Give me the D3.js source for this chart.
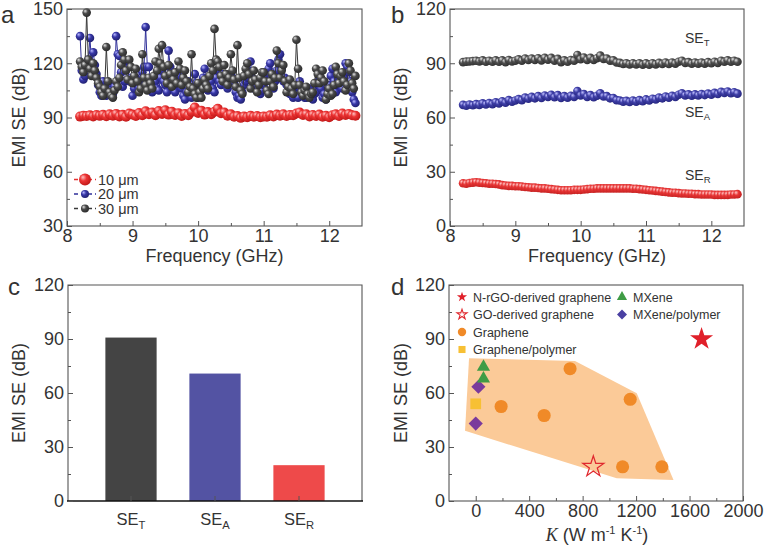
<!DOCTYPE html>
<html><head><meta charset="utf-8">
<script src="https://cdn.jsdelivr.net/npm/d3@7"></script>
<style>
body{margin:0;background:#fff}
svg{display:block}
text{font-family:"Liberation Sans",Arial,sans-serif;fill:#333}
</style></head><body>
<svg id="chart" width="764" height="551"></svg>
<script>
// ---------- DATA ----------
const freq = [8.2,8.25,8.3,8.35,8.4,8.45,8.5,8.55,8.6,8.65,8.7,8.75,8.8,8.85,8.9,8.95,
  9.0,9.05,9.1,9.15,9.2,9.25,9.3,9.35,9.4,9.45,9.5,9.55,9.6,9.65,9.7,9.75,9.8,9.85,9.9,9.95,
  10.0,10.05,10.1,10.15,10.2,10.25,10.3,10.35,10.4,10.45,10.5,10.55,10.6,10.65,10.7,10.75,10.8,10.85,10.9,10.95,
  11.0,11.05,11.1,11.15,11.2,11.25,11.3,11.35,11.4,11.45,11.5,11.55,11.6,11.65,11.7,11.75,11.8,11.85,11.9,11.95,
  12.0,12.05,12.1,12.15,12.2,12.25,12.3,12.35,12.4];

const freqFine = [
  8.2,8.225,8.25,8.275,8.3,8.325,8.35,8.375,
  8.4,8.425,8.45,8.475,8.5,8.525,8.55,8.575,
  8.6,8.625,8.65,8.675,8.7,8.725,8.75,8.775,
  8.8,8.825,8.85,8.875,8.9,8.925,8.95,8.975,
  9.0,9.025,9.05,9.075,9.1,9.125,9.15,9.175,
  9.2,9.225,9.25,9.275,9.3,9.325,9.35,9.375,
  9.4,9.425,9.45,9.475,9.5,9.525,9.55,9.575,
  9.6,9.625,9.65,9.675,9.7,9.725,9.75,9.775,
  9.8,9.825,9.85,9.875,9.9,9.925,9.95,9.975,
  10.0,10.025,10.05,10.075,10.1,10.125,10.15,10.175,
  10.2,10.225,10.25,10.275,10.3,10.325,10.35,10.375,
  10.4,10.425,10.45,10.475,10.5,10.525,10.55,10.575,
  10.6,10.625,10.65,10.675,10.7,10.725,10.75,10.775,
  10.8,10.825,10.85,10.875,10.9,10.925,10.95,10.975,
  11.0,11.025,11.05,11.075,11.1,11.125,11.15,11.175,
  11.2,11.225,11.25,11.275,11.3,11.325,11.35,11.375,
  11.4,11.425,11.45,11.475,11.5,11.525,11.55,11.575,
  11.6,11.625,11.65,11.675,11.7,11.725,11.75,11.775,
  11.8,11.825,11.85,11.875,11.9,11.925,11.95,11.975,
  12.0,12.025,12.05,12.075,12.1,12.125,12.15,12.175,
  12.2,12.225,12.25,12.275,12.3,12.325,12.35,12.375,
  12.4];

const se10um = [90.5,91,90.8,91.2,90.6,91.4,90.9,91.5,90.7,91.8,91,92,90.6,91.5,90.4,92.2,
  91.6,90.8,92.5,91.2,93.4,91.8,92.8,91.3,93.6,92,94,91.6,93.2,91.4,92.4,90.8,92,91.2,93,95.5,
  92.5,93.8,91.6,93,91.8,93.2,94.8,92.4,92.8,91,91.8,90.4,90.8,89.8,90.6,90.2,91,90.4,90.8,90.2,
  90.6,90.4,91.2,90.6,91.6,91,91.8,90.8,91.4,91.2,92.2,92.8,91.4,91.8,90.6,91.4,90.8,91.6,90.4,91,
  90.2,91.2,91.8,90.8,92.2,91.4,92,91.2,91];

const se20um = [
  135,116,111,113,118,122,134,120,
  126,119,114,108,104,102,110,106,
  102,104,108,105,103,107,135,125,
  124,115,107,110,118,121,110,112,
  102,106,112,108,106,110,115,118,
  140,118,118,110,104,107,110,106,
  105,112,116,110,108,104,127,118,
  111,106,104,109,113,108,106,102,
  100,104,110,106,101,108,114,109,
  101,103,107,112,117,110,105,108,
  110,106,104,112,116,110,108,114,
  112,108,106,110,114,112,109,104,
  101,102,100,104,108,110,112,116,
  121,112,106,108,110,106,103,105,
  108,111,114,117,120,112,106,110,
  116,122,125,117,110,112,108,105,
  103,106,101,104,107,101,110,106,
  103,101,101,104,106,102,100,103,
  104,108,112,106,101,103,100,102,
  108,113,117,110,104,108,112,109,
  106,112,120,118,115,110,104,100,
  98];

const se30um = [
  121,118,115,119,148,122,117,113,
  120,116,112,109,107,104,102,106,
  129,110,104,102,101,105,110,107,
  112,119,126,122,116,111,122,118,
  109,113,117,110,104,106,125,112,
  108,105,112,109,106,113,121,116,
  128,120,130,118,113,109,119,114,
  107,111,115,109,121,117,108,112,
  116,110,104,107,125,106,103,101,
  109,104,101,106,111,108,106,113,
  120,116,139,122,121,118,113,110,
  119,114,108,112,125,116,111,107,
  130,112,105,103,113,117,120,114,
  106,110,116,111,104,108,112,115,
  115,110,105,103,110,114,107,112,
  127,120,112,116,119,110,104,107,
  111,106,103,108,133,117,108,104,
  102,105,107,103,101,103,104,109,
  117,114,109,112,116,110,100,103,
  106,102,103,108,118,114,109,113,
  115,110,105,108,120,116,109,106,
  113];

const seTotal = [90.6,90.9,91,91.2,91.4,91,91.6,90.8,91.4,90.8,91.6,90.8,91.6,90.6,91.8,91,
  91.4,92.2,91.4,92.6,91.8,92.6,91.8,92.8,91.6,93,92,93,91.4,92.4,90.6,91.6,90.8,91.8,91.4,94.6,
  92.2,93.2,91.8,93,91.8,92.8,94.2,92.4,92.6,91.4,91.6,90.4,90.2,89.6,90,89.4,90,89.4,90,89.2,
  90,89.2,90,89.4,90.2,89.6,90.4,89.6,90.4,89.8,90.8,91.4,90.2,90.6,89.8,90.4,89.8,90.4,89.8,90.6,
  90,90.8,90.2,91.4,90.8,91.6,90.8,91.4,90.8];

const seAbs = [67,66.5,67.2,66.8,67.4,67,67.8,67.2,68,67.4,68.4,67.8,69,68.2,69.6,68.8,
  69.4,70.2,69.6,71,70.4,71.4,70.6,71.8,70.8,72.2,71.4,72.6,71.2,72.4,70.8,71.8,71,72,71.4,74.6,
  72.2,73,71.4,72.4,71.2,72,73.4,71.6,71.8,70.6,70.8,69.6,69.4,68.8,69.2,68.6,69.4,68.8,69.6,69,
  70,69.4,70.4,70,71,70.6,71.6,71,72,71.4,72.6,73.4,72.2,72.8,72,72.8,72.2,73,72.4,73.2,
  72.6,73.6,73,74.2,73.6,74.4,73.4,74,73.2];

const seRef = [23.6,23.4,23.8,24,24.2,24,23.8,23.6,23.4,23.4,23.2,23,22.6,22.4,22.2,22.2,
  22,22,21.8,21.6,21.4,21.2,21.2,21,20.8,20.8,20.6,20.4,20.2,20,19.8,19.8,19.8,19.8,20,20,
  20,20.2,20.4,20.6,20.6,20.8,20.8,20.8,20.8,20.8,20.8,20.8,20.8,20.8,20.8,20.8,20.6,20.6,20.4,20.2,
  20,19.8,19.6,19.4,19.2,19,18.8,18.6,18.4,18.4,18.2,18,18,17.8,17.8,17.6,17.6,17.4,17.4,17.4,
  17.4,17.2,17.2,17.2,17.2,17.2,17.4,17.4,17.6];

const barCats = ["T", "A", "R"];
const barVals = [90.8, 70.8, 19.9];

const kNrGO = [1690], seNrGO = [90];
const kGO = [880], seGO = [19];
const kGraphene = [706, 1156, 190, 512, 1099, 1393];
const seGraphene = [73.5, 56.5, 52.5, 47.5, 19, 19];
const kGrPoly = [0], seGrPoly = [54];
const kMXene = [58, 58], seMXene = [74.5, 68];
const kMXPoly = [20, 0], seMXPoly = [63.5, 43];
const hullK = [-80, -50, 743, 1205, 1480, 1055];
const hullSE = [39, 79.3, 77.8, 59.8, 11.7, 12.6];

const ticksA = [30,60,90,120,150], ticks120 = [0,30,60,90,120];
const freqTicks = [8,9,10,11,12];
const kTicks = [0,400,800,1200,1600,2000];

// ---------- SETUP ----------
const svg = d3.select("#chart");
const defs = svg.append("defs");
function grad(id, hi, base, dark){
  const g = defs.append("radialGradient").attr("id", id)
    .attr("cx","0.4").attr("cy","0.4").attr("r","0.62").attr("fx","0.32").attr("fy","0.3");
  g.append("stop").attr("offset","0").attr("stop-color", hi);
  g.append("stop").attr("offset","0.45").attr("stop-color", base);
  g.append("stop").attr("offset","1").attr("stop-color", dark);
}
grad("gRed", "#ffc2c2", "#ec3434", "#c01818");
grad("gBlue", "#b8b8ff", "#3838a8", "#202070");
grad("gGray", "#e4e4e4", "#4a4a4a", "#2a2a2a");
grad("gRedB", "#ffc8c8", "#e83636", "#c42020");
grad("gBlueB", "#c0c0ff", "#4040a8", "#262680");
grad("gGrayB", "#e8e8e8", "#505050", "#303030");

const FRAME = "#555";
const FONT = '"Liberation Sans",Arial,sans-serif';
function frame(x0,x1,y0,y1){
  svg.append("rect").attr("x",x0).attr("y",y0).attr("width",x1-x0).attr("height",y1-y0)
    .attr("fill","none").attr("stroke",FRAME).attr("stroke-width",1.1);
}
function leftAxis(y, x0, major, minor){
  const g = svg.append("g").attr("transform",`translate(${x0},0)`);
  g.call(d3.axisLeft(y).tickValues(major).tickSize(-5).tickPadding(4));
  g.select(".domain").remove();
  g.selectAll(".tick line").attr("stroke",FRAME);
  g.selectAll("text").attr("font-size",18).attr("fill","#222").style("font-family",FONT);
  const m = svg.append("g").attr("transform",`translate(${x0},0)`);
  m.call(d3.axisLeft(y).tickValues(minor).tickSize(-3).tickFormat(""));
  m.select(".domain").remove();
  m.selectAll(".tick line").attr("stroke",FRAME);
}
function bottomAxis(x, y0, major, minor, fmt){
  const g = svg.append("g").attr("transform",`translate(0,${y0})`);
  g.call(d3.axisBottom(x).tickValues(major).tickSize(-5).tickPadding(3).tickFormat(fmt || d3.format("d")));
  g.select(".domain").remove();
  g.selectAll(".tick line").attr("stroke",FRAME);
  g.selectAll("text").attr("font-size",18).attr("fill","#222").style("font-family",FONT);
  if (minor){
    const m = svg.append("g").attr("transform",`translate(0,${y0})`);
    m.call(d3.axisBottom(x).tickValues(minor).tickSize(-3).tickFormat(""));
    m.select(".domain").remove();
    m.selectAll(".tick line").attr("stroke",FRAME);
  }
}
function yTitle(x, y, txt){
  svg.append("text").attr("transform",`translate(${x},${y}) rotate(-90)`)
    .attr("text-anchor","middle").attr("font-size",18).attr("fill","#222").text(txt);
}
function panelLabel(x, y, t){
  svg.append("text").attr("x",x).attr("y",y).attr("font-size",24).attr("fill","#111").text(t);
}
function series(g, xs, ys, x, y, color, gradId, r, lw){
  const pts = xs.map((v,i)=>[v, ys[i]]);
  g.append("path").datum(pts).attr("fill","none").attr("stroke",color).attr("stroke-width",lw||1.1)
    .attr("d", d3.line().x(d=>x(d[0])).y(d=>y(d[1])));
  g.selectAll(null).data(pts).join("circle")
    .attr("cx",d=>x(d[0])).attr("cy",d=>y(d[1])).attr("r",r).attr("fill",`url(#${gradId})`);
}

// ---------- PANEL A ----------
const xa = d3.scaleLinear().domain([8,12.5]).range([67,362]);
const ya = d3.scaleLinear().domain([30,150]).range([226,9]);
const ga = svg.append("g");
series(ga, freq, se10um, xa, ya, "#e83030", "gRed", 5);
series(ga, freqFine, se20um, xa, ya, "#30309a", "gBlue", 4.3, 1);
series(ga, freqFine, se30um, xa, ya, "#383838", "gGray", 4.3, 1);
frame(67,362,9,226);
leftAxis(ya, 67, ticksA, [45,75,105,135]);
bottomAxis(xa, 226, freqTicks, [8.5,9.5,10.5,11.5]);
yTitle(25, 117.5, "EMI SE (dB)");
svg.append("text").attr("x",214.5).attr("y",262).attr("text-anchor","middle").attr("font-size",18).attr("fill","#222").text("Frequency (GHz)");
panelLabel(1, 22.5, "a");
// legend a
const legA = [["10 μm","#e83030","gRed",6],["20 μm","#30309a","gBlue",4],["30 μm","#383838","gGray",4]];
legA.forEach((d,i)=>{
  const cy = 179.5 + i*14.5;
  svg.append("line").attr("x1",74).attr("x2",96).attr("y1",cy).attr("y2",cy)
    .attr("stroke",d[1]).attr("stroke-width",1.4).attr("stroke-dasharray","4,3");
  svg.append("circle").attr("cx",85).attr("cy",cy).attr("r",d[3]).attr("fill",`url(#${d[2]})`);
  svg.append("text").attr("x",98).attr("y",cy+5).attr("font-size",14.5).attr("fill","#222").text(d[0]);
});

// ---------- PANEL B ----------
const xb = d3.scaleLinear().domain([8,12.5]).range([450,744]);
const yb = d3.scaleLinear().domain([0,120]).range([226,9]);
const gb = svg.append("g");
series(gb, freq, seRef, xb, yb, "#e03030", "gRedB", 4.3);
series(gb, freq, seAbs, xb, yb, "#3a3aa0", "gBlueB", 4.3);
series(gb, freq, seTotal, xb, yb, "#444", "gGrayB", 4.3);
frame(450,744,9,226);
leftAxis(yb, 450, ticks120, [15,45,75,105]);
bottomAxis(xb, 226, freqTicks, [8.5,9.5,10.5,11.5]);
yTitle(407, 117.5, "EMI SE (dB)");
svg.append("text").attr("x",597).attr("y",262).attr("text-anchor","middle").attr("font-size",18).attr("fill","#222").text("Frequency (GHz)");
panelLabel(391, 22.5, "b");
function seLabel(x, y, sub, color, size, anchor){
  const t = svg.append("text").attr("x",x).attr("y",y).attr("font-size",size).attr("fill",color)
    .attr("text-anchor",anchor||"start");
  t.append("tspan").text("SE");
  t.append("tspan").attr("font-size",size*0.68).attr("dy",size*0.22).text(sub);
  return t;
}
seLabel(685, 42.5, "T", "#555", 14);
seLabel(685, 116.5, "A", "#4646a6", 14);
seLabel(685, 180, "R", "#e04040", 14);

// ---------- PANEL C ----------
const xc = d3.scaleBand().domain(barCats).range([68,362]).paddingInner(0.39).paddingOuter(0.445);
const yc = d3.scaleLinear().domain([0,120]).range([501,285]);
const barColors = {T:"#444444", A:"#5353a3", R:"#ee4a4a"};
const labColors = {T:"#555", A:"#4a4aa0", R:"#e04848"};
svg.append("g").selectAll("rect").data(barCats).join("rect")
  .attr("x",d=>xc(d)).attr("width",xc.bandwidth())
  .attr("y",(d,i)=>yc(barVals[i])).attr("height",(d,i)=>yc(0)-yc(barVals[i]))
  .attr("fill",d=>barColors[d]);
svg.append("path").attr("d","M68,501V285H362V501").attr("fill","none").attr("stroke",FRAME).attr("stroke-width",1.1);
svg.append("line").attr("x1",67).attr("x2",363).attr("y1",501).attr("y2",501).attr("stroke","#111").attr("stroke-width",1.6);
leftAxis(yc, 68, ticks120, [15,45,75,105]);
barCats.forEach(c=>{
  const cx = xc(c)+xc.bandwidth()/2;
  svg.append("line").attr("x1",cx).attr("x2",cx).attr("y1",501).attr("y2",496).attr("stroke",FRAME);
  seLabel(cx, 525, c, labColors[c], 16.5, "middle");
});
yTitle(25, 393, "EMI SE (dB)");
panelLabel(8, 295, "c");

// ---------- PANEL D ----------
const xd = d3.scaleLinear().domain([-200,2000]).range([449,743]);
const yd = d3.scaleLinear().domain([0,120]).range([501,285]);
const hull = hullK.map((k,i)=>[xd(k), yd(hullSE[i])]);
svg.append("polygon").attr("points", hull.map(p=>p.join(",")).join(" ")).attr("fill","#fbca98");
const gd = svg.append("g");
const sym = (type,size)=>d3.symbol().type(type).size(size)();
function markers(ks, ses, type, size, fill, stroke, sw){
  gd.selectAll(null).data(ks.map((k,i)=>[k,ses[i]])).join("path")
    .attr("transform",d=>`translate(${xd(d[0])},${yd(d[1])})`)
    .attr("d", sym(type,size)).attr("fill",fill).attr("stroke",stroke||"none").attr("stroke-width",sw||0);
}
const diamond = {draw(ctx,size){const r=Math.sqrt(size/2);ctx.moveTo(0,-r);ctx.lineTo(r,0);ctx.lineTo(0,r);ctx.lineTo(-r,0);ctx.closePath();}};
markers(kGraphene, seGraphene, d3.symbolCircle, 135, "#f08a28");
markers(kGrPoly, seGrPoly, d3.symbolSquare, 115, "#f7c034");
markers(kMXPoly, seMXPoly, diamond, 100, "#7a3a9c");
markers(kMXene, seMXene, d3.symbolTriangle, 75, "#3f9c45");
markers(kGO, seGO, d3.symbolStar, 135, "none", "#e0282e", 1.3);
markers(kNrGO, seNrGO, d3.symbolStar, 165, "#e0202a");
frame(449,743,285,501);
leftAxis(yd, 449, ticks120, [15,45,75,105]);
bottomAxis(xd, 501, kTicks, [200,600,1000,1400,1800]);
yTitle(407, 393, "EMI SE (dB)");
panelLabel(391, 295, "d");
const kt = svg.append("text").attr("x",597).attr("y",541).attr("text-anchor","middle").attr("font-size",18).attr("fill","#222");
kt.append("tspan").attr("font-family","Liberation Serif, Times New Roman, serif").attr("font-style","italic").text("K");
kt.append("tspan").text(" (W m");
kt.append("tspan").attr("font-size",11).attr("dy",-7).text("-1");
kt.append("tspan").attr("dy",7).text(" K");
kt.append("tspan").attr("font-size",11).attr("dy",-7).text("-1");
kt.append("tspan").attr("dy",7).text(")");
// legend d
const legD = [
  [462, 297, d3.symbolStar, 32, "#e0202a", "none", "N-rGO-derived graphene"],
  [462, 314.5, d3.symbolStar, 32, "none", "#e0282e", "GO-derived graphene"],
  [462, 332, d3.symbolCircle, 55, "#f08a28", "none", "Graphene"],
  [462, 349.5, d3.symbolSquare, 50, "#f7c034", "none", "Graphene/polymer"],
  [622, 297, d3.symbolTriangle, 45, "#3f9c45", "none", "MXene"],
  [622, 314.5, diamond, 50, "#4a40a2", "none", "MXene/polymer"]
];
legD.forEach(d=>{
  svg.append("path").attr("transform",`translate(${d[0]},${d[1]})`).attr("d",sym(d[2],d[3]))
    .attr("fill",d[4]).attr("stroke",d[5]).attr("stroke-width",1.1);
  svg.append("text").attr("x",d[0]+11).attr("y",d[1]+4.5).attr("font-size",12.5).attr("fill","#222").text(d[6]);
});
</script>
</body></html>
